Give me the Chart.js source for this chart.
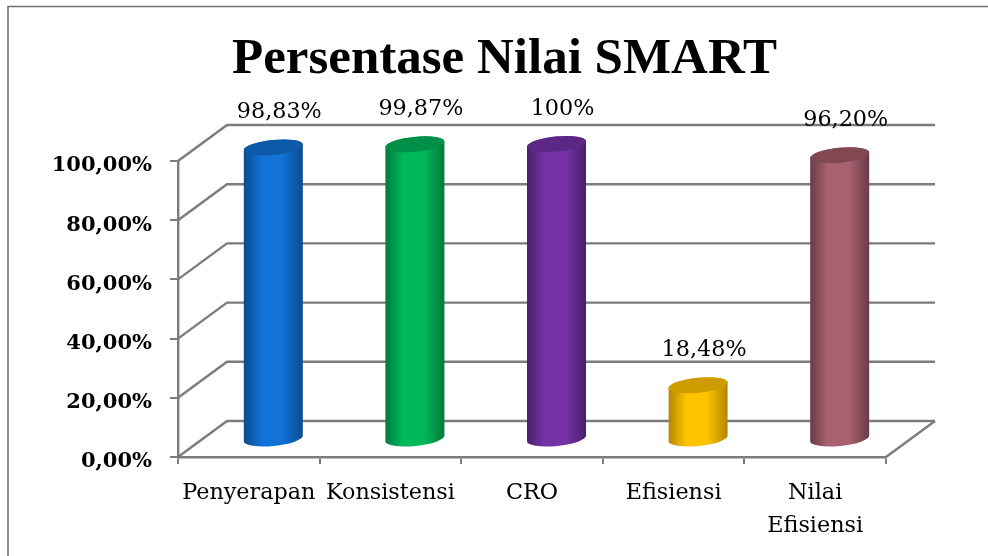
<!DOCTYPE html>
<html><head><meta charset="utf-8">
<style>html,body{margin:0;padding:0;background:#fff}canvas{display:block}</style>
<script src="https://cdn.jsdelivr.net/npm/chart.js@4"></script>
</head><body>
<div style="width:988px;height:556px"><canvas id="c" width="988" height="556"></canvas></div>
<script>
const categories = ['Penyerapan','Konsistensi','CRO','Efisiensi',['Nilai','Efisiensi']];
const values = [98.83, 99.87, 100, 18.48, 96.20];
const valueLabels = ['98,83%','99,87%','100%','18,48%','96,20%'];
const yTickLabels = {0:'0,00%',20:'20,00%',40:'40,00%',60:'60,00%',80:'80,00%',100:'100,00%'};
const midColors = ['#1272d6','#00b95a','#7532a8','#ffc400','#a8626f'];
const edgeColors = ['#0b4c8e','#007a3d','#47206a','#b38600','#693c47'];
const topColors = ['#0f5aa8','#008f48','#5c2787','#cc9c00','#814854'];

const GRID = '#7c7c7c';
const DX = 49, DY = 36;      // depth of the 3D box
const serif = '"DejaVu Serif", serif';

const frame = {
  id:'frame',
  beforeDraw(chart){
    const c = chart.ctx;
    c.save(); c.fillStyle='#fff'; c.fillRect(0,0,chart.width,chart.height);
    c.strokeStyle='#6f6f6f'; c.lineWidth=1.6;
    c.beginPath(); c.moveTo(8,chart.height); c.lineTo(8,6.5); c.lineTo(chart.width,6.5); c.stroke();
    c.restore();
  }
};
const box3d = {
  id:'box3d',
  beforeDatasetsDraw(chart){
    const c = chart.ctx, a = chart.chartArea, y = chart.scales.y;
    c.save(); c.strokeStyle=GRID; c.lineWidth=2.4;
    y.ticks.forEach(t=>{
      const py = y.getPixelForValue(t.value);
      c.beginPath(); c.moveTo(a.left,py); c.lineTo(a.left+DX,py-DY); c.lineTo(a.right+DX,py-DY);
      c.stroke();
    });
    const p0 = y.getPixelForValue(0);
    c.beginPath(); c.moveTo(a.right,p0); c.lineTo(a.right+DX,p0-DY); c.stroke();
    c.restore();
  }
};
const cylinders = {
  id:'cylinders',
  beforeDatasetDraw(chart,args){
    const c = chart.ctx, meta = args.meta, rot = -0.1, ry = 7.5;
    c.save();
    meta.data.forEach((bar,i)=>{
      const w = bar.width, cx = bar.x + DX/2, top = bar.y - DY/2 + 1, base = bar.base - DY/2 + 0.5;
      const rx = w/2/Math.cos(rot);
      const g = c.createLinearGradient(cx-w/2,0,cx+w/2,0);
      g.addColorStop(0,edgeColors[i]); g.addColorStop(.3,midColors[i]);
      g.addColorStop(.65,midColors[i]); g.addColorStop(1,edgeColors[i]);
      c.beginPath();
      c.ellipse(cx,base,rx,ry,rot,0,Math.PI);
      c.ellipse(cx,top,rx,ry,rot,Math.PI,2*Math.PI);
      c.closePath(); c.fillStyle=g; c.fill();
      c.beginPath(); c.ellipse(cx,top,rx,ry,rot,0,2*Math.PI);
      c.fillStyle=topColors[i]; c.fill();
    });
    c.restore();
    return false;
  },
  afterDatasetsDraw(chart){
    const c = chart.ctx, meta = chart.getDatasetMeta(0);
    c.save(); c.fillStyle='#000'; c.font='22.3px '+serif; c.textAlign='center'; c.textBaseline='middle';
    meta.data.forEach((bar,i)=>{
      c.fillText(valueLabels[i], bar.x + DX/2 + 6, bar.y - DY/2 - 34);
    });
    c.restore();
  }
};

new Chart(document.getElementById('c'),{
  type:'bar',
  data:{labels:categories,datasets:[{data:values,backgroundColor:midColors,categoryPercentage:59/141.6,barPercentage:1}]},
  plugins:[frame,box3d,cylinders],
  options:{
    responsive:false,animation:false,
    layout:{padding:{left:21,right:0,top:0,bottom:0}},
    plugins:{
      legend:{display:false},tooltip:{enabled:false},
      title:{display:true,text:'Persentase Nilai SMART',color:'#000',
        font:{family:'"Liberation Serif", serif',size:51,weight:'bold',lineHeight:1.15},
        padding:{top:31,bottom:71.35}}
    },
    scales:{
      x:{
        grid:{display:true,drawOnChartArea:false,drawTicks:true,tickLength:7,color:GRID,lineWidth:2,offset:true},
        border:{display:true,color:GRID,width:2.4},
        ticks:{color:'#000',font:{family:serif,size:22.3,lineHeight:1.47},padding:13,maxRotation:0,autoSkip:false},
        afterFit(s){s.height=99;}
      },
      y:{
        min:0,max:100,
        grid:{display:true,drawOnChartArea:false,drawTicks:true,tickLength:8,color:GRID,lineWidth:2},
        border:{display:true,color:GRID,width:2.4},
        ticks:{stepSize:20,color:'#000',font:{family:serif,size:21,weight:'bold'},padding:18,labelOffset:5,
          callback:v=>yTickLabels[v]},
        afterFit(s){s.width=157;}
      },
      yRight:{
        position:'right',display:true,min:0,max:100,
        grid:{display:false},border:{display:false},ticks:{display:false},
        afterFit(s){s.width=102;}
      }
    }
  }
});
</script>
</body></html>
